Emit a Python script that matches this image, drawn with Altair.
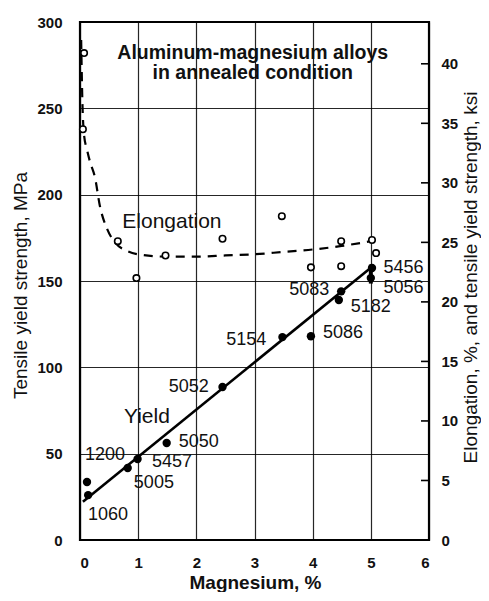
import altair as alt
import pandas as pd

# ---- data ----
yield_mg = [0.12, 0.14, 0.82, 0.99, 1.49, 2.45, 3.48, 3.97, 4.49, 4.45, 5.02, 5.0]
yield_mpa = [33.6, 26.0, 41.7, 46.9, 56.2, 88.6, 117.5, 118.0, 144.0, 139.0, 157.5, 151.7]

yield_line_mg = [0.05, 5.0]
yield_line_mpa = [22.1, 157.7]

band_mg = [5.0]
band_lo = [148.5]
band_hi = [159.5]

elong_mg = [0.07, 0.05, 0.65, 0.97, 1.47, 2.45, 3.47, 3.97, 4.49, 4.49, 5.02, 5.09]
elong_pct = [40.9, 34.5, 25.1, 22.0, 23.9, 25.3, 27.2, 22.9, 25.1, 23.0, 25.2, 24.1]

curve_mg = [0.02, 0.04, 0.07, 0.12, 0.17, 0.26, 0.34, 0.46, 0.6, 0.8, 1.0, 1.5, 2.0, 2.5, 3.0, 3.5, 4.0, 4.5, 5.0]
curve_pct = [42.0, 37.0, 34.0, 32.8, 31.8, 30.4, 28.1, 26.2, 25.0, 24.3, 24.0, 23.8, 23.8, 23.9, 24.0, 24.2, 24.4, 24.7, 25.1]

alloy_names = ["1200", "1060", "5005", "5457", "5050", "5052", "5154", "5086", "5083", "5182", "5456", "5056"]
alloy_lx = [0.43, 0.48, 1.27, 1.58, 2.04, 1.87, 2.86, 4.52, 3.94, 5.0, 5.56, 5.56]
alloy_ly = [49.2, 14.5, 33.0, 45.0, 56.7, 88.6, 115.8, 119.9, 144.8, 135.0, 157.5, 146.0]

note_text = ["Aluminum-magnesium alloys", "in annealed condition"]
note_x = [2.97, 2.97]
note_y = [282.0, 270.4]

series_text = ["Elongation", "Yield"]
series_x = [1.58, 1.15]
series_y = [184.0, 71.0]

mpa_ticks = [0, 50, 100, 150, 200, 250, 300]
mg_ticks = [0, 1, 2, 3, 4, 5, 6]
right_ticks = [0, 5, 10, 15, 20, 25, 30, 35, 40]

MPA_MAX = 300
KSI_MAX = 300 / 6.895

W, H = 349, 518
FONT = "Liberation Sans"

xs = alt.Scale(domain=[0, 6], nice=False, zero=False)
ys_l = alt.Scale(domain=[0, MPA_MAX], nice=False, zero=False)
ys_r = alt.Scale(domain=[0, KSI_MAX], nice=False, zero=False)

x_axis = alt.Axis(values=mg_ticks, grid=True, gridColor="black", gridWidth=1.2, gridOpacity=0.85,
                  ticks=False, domain=False, labelPadding=15, labelFontSize=15, labelFont=FONT,
                  labelFontWeight="bold", labelColor="#111",
                  title="Magnesium, %", titleFont=FONT, titleFontSize=19,
                  titleFontWeight="bold", titleColor="#111",
                  titleX=175, titleY=42, titleAlign="center", titleBaseline="middle")

left_axis = alt.Axis(values=mpa_ticks, grid=True, gridColor="black", gridWidth=1.2, gridOpacity=0.85,
                     ticks=False, domain=False, labelPadding=18, labelFontSize=15, labelFont=FONT,
                     labelFontWeight="bold", labelColor="#111",
                     title="Tensile yield strength, MPa", titleFont=FONT,
                     titleFontSize=19, titleFontWeight="normal", titleColor="#111",
                     titleAngle=270, titleX=-60, titleY=263, titleAlign="center",
                     titleBaseline="middle")

right_axis = alt.Axis(orient="right", values=right_ticks, grid=False, ticks=False, domain=False,
                      labelPadding=12, labelFontSize=15, labelFont=FONT, labelColor="#111",
                      labelFontWeight="bold",
                      title="Elongation, %, and tensile yield strength, ksi", titleFont=FONT,
                      titleFontSize=19, titleFontWeight="normal", titleColor="#111",
                      titleAngle=270, titleX=41, titleY=255, titleAlign="center",
                      titleBaseline="middle")


def X(field):
    return alt.X(field, scale=xs, axis=x_axis, title="Magnesium, %")


def YL(field):
    return alt.Y(field, scale=ys_l, axis=left_axis, title="Tensile yield strength, MPa")


def YR(field):
    return alt.Y(field, scale=ys_r, axis=right_axis,
                 title="Elongation, %, and tensile yield strength, ksi")


# ---- left-scale layers ----
yield_df = pd.DataFrame({"mg": yield_mg, "mpa": yield_mpa})
line_df = pd.DataFrame({"mg": yield_line_mg, "mpa": yield_line_mpa})
band_df = pd.DataFrame({"mg": band_mg, "lo": band_lo, "hi": band_hi})
alloy_df = pd.DataFrame({"name": alloy_names, "x": alloy_lx, "y": alloy_ly})
note_df = pd.DataFrame({"t": note_text, "x": note_x, "y": note_y})
series_df = pd.DataFrame({"t": series_text, "x": series_x, "y": series_y})

yline = alt.Chart(line_df).mark_line(color="black", strokeWidth=2.6).encode(
    x=X("mg:Q"), y=YL("mpa:Q"))

band = alt.Chart(band_df).mark_rule(color="black", strokeWidth=4).encode(
    x=X("mg:Q"), y=YL("lo:Q"), y2="hi:Q")

ypts = alt.Chart(yield_df).mark_circle(color="black", size=70, opacity=1).encode(
    x=X("mg:Q"), y=YL("mpa:Q"))

alloy_txt = alt.Chart(alloy_df).mark_text(font=FONT, fontSize=18, color="#111").encode(
    x=X("x:Q"), y=YL("y:Q"), text="name:N")

note_txt = alt.Chart(note_df).mark_text(font=FONT, fontSize=19.5, fontWeight="bold", color="#111").encode(
    x=X("x:Q"), y=YL("y:Q"), text="t:N")

series_txt = alt.Chart(series_df).mark_text(font=FONT, fontSize=21, color="#111").encode(
    x=X("x:Q"), y=YL("y:Q"), text="t:N")

left = alt.layer(yline, band, ypts, alloy_txt, note_txt, series_txt)

# ---- right-scale layers ----
elong_df = pd.DataFrame({"mg": elong_mg, "pct": elong_pct})
curve_df = pd.DataFrame({"mg": curve_mg, "pct": curve_pct})
rt_df = pd.DataFrame({"v": right_ticks})

curve = alt.Chart(curve_df).mark_line(color="black", strokeWidth=2.2, strokeDash=[9, 7],
                                      interpolate="monotone").encode(
    x=X("mg:Q"), y=YR("pct:Q"))

epts = alt.Chart(elong_df).mark_point(shape="circle", filled=True, fill="white", stroke="black",
                                      strokeWidth=1.6, size=42, opacity=1).encode(
    x=X("mg:Q"), y=YR("pct:Q"))

rticks = alt.Chart(rt_df).mark_rule(color="black", strokeWidth=1.6).encode(
    x=alt.value(W - 8),
    x2=alt.value(W),
    y=YR("v:Q"),
)

right = alt.layer(curve, epts, rticks)

chart = alt.layer(left, right).resolve_scale(y="independent").properties(
    width=W,
    height=H,
    autosize=alt.AutoSizeParams(type="none"),
    padding={"left": 72, "top": 14, "right": 52, "bottom": 52},
    background="white",
).configure_view(stroke="black", strokeWidth=2.2)

chart.save("out.html", embed_options={"renderer": "svg", "actions": False})
